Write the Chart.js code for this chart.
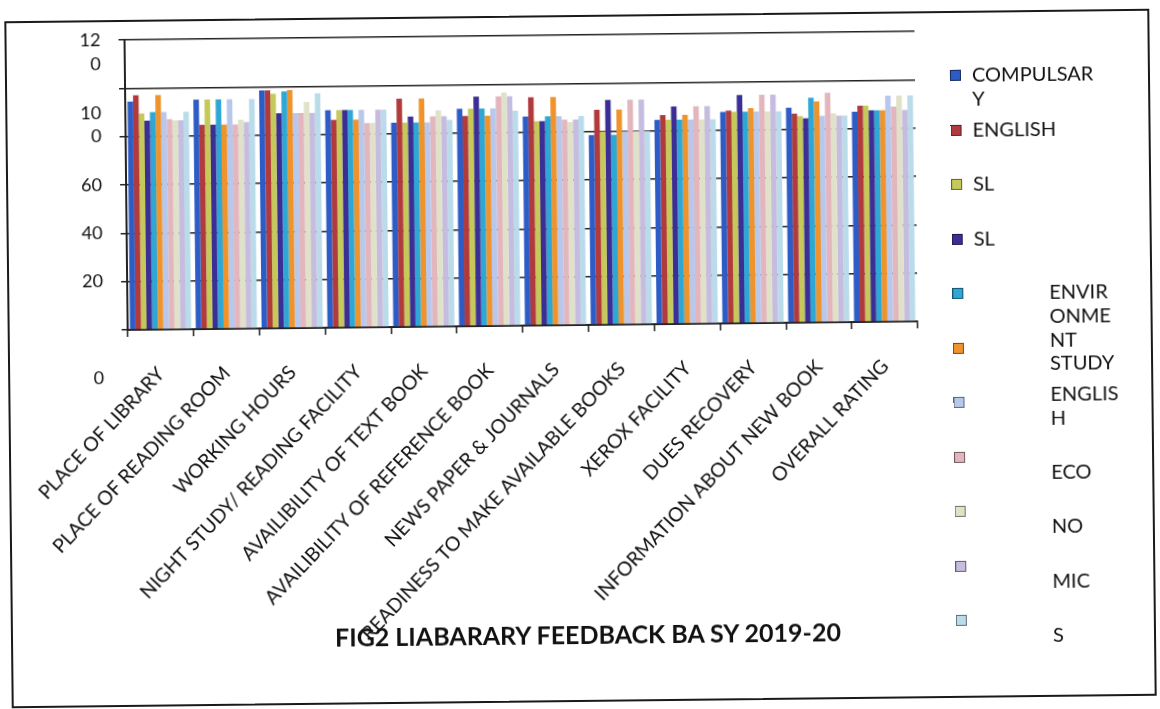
<!DOCTYPE html>
<html>
<head>
<meta charset="utf-8">
<script src="https://cdn.jsdelivr.net/npm/chart.js@4.4.0/dist/chart.umd.min.js"></script>
<style>
  html, body { margin: 0; padding: 0; background: #fff; }
  body { width: 1160px; height: 709px; overflow: hidden; font-family: Lato, sans-serif; color: #111; }
  #page { position: absolute; left: 0; top: 0; width: 1160px; height: 709px;
          transform-origin: 580px 358px; transform: rotate(-0.62deg); }
  #frame { position: absolute; left: 8px; top: 15px; width: 1141px; height: 683px; border: 2px solid #1a1a1a; }
  #wrap { position: absolute; left: 0; top: 0; width: 940px; height: 709px; }
  #title { position: absolute; left: 0; top: 619px; width: 1170px; text-align: center;
           font-weight: 700; font-size: 25px; }
  .lg-box { position: absolute; width: 9px; height: 9px; border: 1px solid rgba(0,0,0,0.5); }
  .lg-txt { position: absolute; font-size: 20px; line-height: 23.5px; white-space: pre; }
</style>
</head>
<body>
<div id="page">
  <div id="frame"></div>
  <div id="wrap"><canvas id="feedbackChart"></canvas></div>
  <div id="title">FIG2 LIABARARY FEEDBACK BA SY 2019-20</div>
  <div id="legend"></div>
</div>
<script>
  // categories and series
  const categories = ['PLACE OF LIBRARY', 'PLACE OF READING ROOM', 'WORKING HOURS',
    'NIGHT STUDY/ READING FACILITY', 'AVAILIBILITY OF TEXT BOOK', 'AVAILIBILITY OF REFERENCE BOOK',
    'NEWS PAPER & JOURNALS', 'READINESS TO MAKE AVAILABLE BOOKS', 'XEROX FACILITY',
    'DUES RECOVERY', 'INFORMATION ABOUT NEW BOOK', 'OVERALL RATING'];

  const compulsary  = [94.5, 95, 98.5, 90, 84.5, 90, 86.5, 78.5, 84.5, 87.5, 89, 87];
  const english     = [97, 84.5, 98.5, 86, 94.5, 87, 94.5, 89, 86.5, 88, 86.5, 89.5];
  const sl1         = [89.5, 95, 97, 90, 84.5, 90, 84.5, 80, 84.5, 87.5, 85.5, 89.5];
  const sl2         = [86.5, 84.5, 89, 90, 87, 95, 84.5, 93, 90, 94.5, 84.5, 87.5];
  const environment = [90, 95, 98, 90, 84.5, 90, 86.5, 78.5, 84.5, 87.5, 93, 87.5];
  const study       = [97, 84.5, 98.5, 86, 94.5, 87, 94.5, 89, 86.5, 89, 91.5, 87.5];
  const english2    = [90, 95, 89, 90, 84.5, 90, 86.5, 80, 84.5, 87.5, 85.5, 93.5];
  const eco         = [87, 84.5, 89, 84.5, 87, 95, 85, 93, 90, 94.5, 95, 89];
  const no          = [86.5, 86.5, 93.5, 84.5, 89.5, 96.5, 84, 80, 84.5, 87.5, 86.5, 93.5];
  const mic         = [86.5, 85.5, 89, 90, 87, 95, 85, 93, 90, 94.5, 85.5, 87.5];
  const s           = [90, 95, 97, 90, 85.5, 89, 86.5, 80, 84.5, 87.5, 85.5, 93.5];

  const seriesNames = ['COMPULSAR\nY', 'ENGLISH', 'SL', 'SL', 'ENVIR\nONME', 'NT\nSTUDY',
    'ENGLIS\nH', 'ECO', 'NO', 'MIC', 'S'];
  const yTicks = [0, 20, 40, 60, 80, 100, 120];
  const yTickLabels = ['0', '20', '40', '60', '10\n0', '', '12\n0'];

  const seriesData = [compulsary, english, sl1, sl2, environment, study, english2, eco, no, mic, s];
  const colors = ['#2d5cc6', '#b03a3c', '#c4c95a', '#3b2f96', '#2fa7d4', '#ef932c',
    '#b7c8ec', '#e3b6bd', '#dfe2c9', '#c6bcdf', '#b9dbea'];

  const datasets = seriesData.map(function (vals, i) {
    return {
      label: seriesNames[i].replace('\n', ''),
      data: vals,
      backgroundColor: colors[i],
      borderWidth: 0,
      categoryPercentage: 0.93,
      barPercentage: 1.0
    };
  });

  new Chart(document.getElementById('feedbackChart'), {
    type: 'bar',
    data: { labels: categories, datasets: datasets },
    options: {
      responsive: true,
      maintainAspectRatio: false,
      animation: false,
      layout: { padding: { left: 0, top: 35, right: 22, bottom: 0 } },
      plugins: { legend: { display: false }, tooltip: { enabled: false } },
      scales: {
        x: {
          grid: { display: true, drawOnChartArea: false, drawTicks: true, tickLength: 7, color: '#222', lineWidth: 1.5 },
          border: { display: true, color: '#222', width: 2 },
          ticks: {
            autoSkip: false, maxRotation: 46, minRotation: 46, padding: 26,
            color: '#111', font: { family: 'Lato', size: 19.5 }
          },
          afterFit: function (scale) {
            scale.height = 384;
            scale.paddingLeft = 0;
            scale.paddingRight = 0;
          }
        },
        y: {
          min: 0, max: 120,
          grid: { color: '#222', lineWidth: 1.5, drawTicks: true, tickLength: 6 },
          border: { display: true, color: '#222', width: 2 },
          ticks: {
            stepSize: 20, autoSkip: false, padding: 18, color: '#111',
            font: { family: 'Lato', size: 18, lineHeight: 1.33 },
            callback: function (value) {
              const idx = yTicks.indexOf(value);
              if (idx < 0) return '';
              const lines = yTickLabels[idx].split('\n');
              if (value === 0) return ['', '', '', ''].concat(lines);
              if (value === 120) return [''].concat(lines);
              if (lines.length > 1) return lines.concat(['']);
              return lines[0];
            }
          },
          afterFit: function (scale) {
            scale.width = 128;
            scale.paddingTop = 0;
            scale.paddingBottom = 0;
          }
        }
      }
    }
  });

  // legend drawn as html, laid out like the photographed excel legend
  const legend = document.getElementById('legend');
  seriesNames.forEach(function (name, i) {
    const cy = 79 + i * 54.5;
    const box = document.createElement('div');
    box.className = 'lg-box';
    box.style.left = '953px';
    box.style.top = (cy - 5) + 'px';
    box.style.background = colors[i];
    legend.appendChild(box);

    const txt = document.createElement('div');
    txt.className = 'lg-txt';
    txt.textContent = name;
    let dy = 0;
    if (i === 5 || i === 6) dy = -7;
    if (i >= 7) dy = 16;
    txt.style.left = (i < 4 ? 975 : 1050) + 'px';
    txt.style.top = (cy + dy - 11.75) + 'px';
    legend.appendChild(txt);
  });
</script>
</body>
</html>
